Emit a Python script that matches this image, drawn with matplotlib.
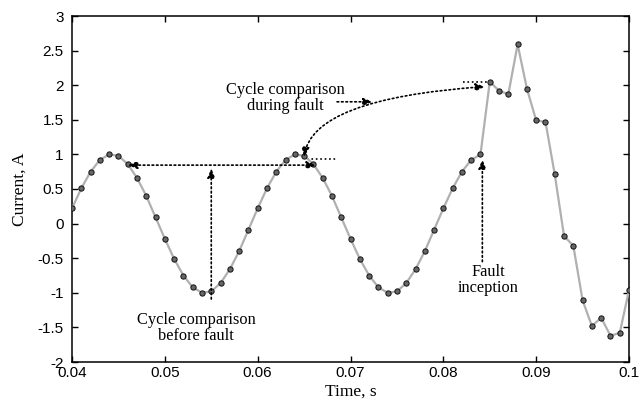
import matplotlib.pyplot as plt
from matplotlib.patches import FancyArrowPatch

SERIF = ['Liberation Serif', 'DejaVu Serif']
SANS = ['Liberation Sans', 'DejaVu Sans']

# sample times, ms
time_ms = [40, 41, 42, 43, 44, 45, 46, 47, 48, 49,
           50, 51, 52, 53, 54, 55, 56, 57, 58, 59,
           60, 61, 62, 63, 64, 65, 66, 67, 68, 69,
           70, 71, 72, 73, 74, 75, 76, 77, 78, 79,
           80, 81, 82, 83, 84, 85, 86, 87, 88, 89,
           90, 91, 92, 93, 94, 95, 96, 97, 98, 99, 100]

# current, A
current = [0.22, 0.51, 0.75, 0.92, 1.00, 0.98, 0.86, 0.66, 0.40, 0.09,
           -0.22, -0.51, -0.75, -0.92, -1.00, -0.98, -0.86, -0.66, -0.40, -0.09,
           0.22, 0.51, 0.75, 0.92, 1.00, 0.98, 0.86, 0.66, 0.40, 0.09,
           -0.22, -0.51, -0.75, -0.92, -1.00, -0.98, -0.86, -0.66, -0.40, -0.09,
           0.22, 0.51, 0.75, 0.92, 1.00, 2.05, 1.92, 1.87, 2.59, 1.95,
           1.49, 1.47, 0.71, -0.18, -0.32, -1.11, -1.48, -1.36, -1.62, -1.58, -0.96]

x_ticks = [0.04, 0.05, 0.06, 0.07, 0.08, 0.09, 0.1]
x_labels = ['0.04', '0.05', '0.06', '0.07', '0.08', '0.09', '0.1']
y_ticks = [-2, -1.5, -1, -0.5, 0, 0.5, 1, 1.5, 2, 2.5, 3]
y_labels = ['-2', '-1.5', '-1', '-0.5', '0', '0.5', '1', '1.5', '2', '2.5', '3']

t = [ms / 1000 for ms in time_ms]

fig = plt.figure(figsize=(6.39, 4.0), dpi=100)
ax = fig.add_axes([0.1127, 0.095, 0.8717, 0.865])

ax.plot(t, current, color='#b0b0b0', lw=1.6, marker='o', ms=3.8,
        mfc='#666666', mec='#111111', mew=0.7, zorder=3)

ax.set_xlim(0.04, 0.1)
ax.set_ylim(-2, 3)
ax.set_xticks(x_ticks)
ax.set_xticklabels(x_labels, family=SANS, fontsize=11)
ax.set_yticks(y_ticks)
ax.set_yticklabels(y_labels, family=SANS, fontsize=11)
ax.tick_params(axis='both', direction='in', length=4.5, width=1,
               top=True, right=True, colors='black')
ax.tick_params(axis='x', pad=3)
ax.tick_params(axis='y', pad=6)
for s in ax.spines.values():
    s.set_linewidth(1.1)

ax.set_xlabel('Time, s', family=SERIF, fontsize=12.5)
ax.set_ylabel('Current, A', family=SERIF, fontsize=12.5)
ax.xaxis.set_label_coords(0.5, -0.062)
ax.yaxis.set_label_coords(-0.08, 0.5)

dot = dict(color='black', lw=1.2, ls=':')
head = '-|>,head_length=0.55,head_width=0.22'
both = '<|-|>,head_length=0.55,head_width=0.22'


def arrow(a, b, style, **kw):
    p = FancyArrowPatch(a, b, arrowstyle=style, mutation_scale=10,
                        shrinkA=0, shrinkB=0, color='black', lw=1.2,
                        ls=':', zorder=4, **kw)
    ax.add_patch(p)


# cycle comparison before fault
arrow((0.046, 0.845), (0.0663, 0.845), both)
arrow((0.055, -1.09), (0.055, 0.80), head)
ax.text(0.0534, -1.51, 'Cycle comparison\nbefore fault', family=SERIF,
        fontsize=11.8, ha='center', va='center', linespacing=1.0)

# cycle comparison during fault
arrow((0.0650, 0.96), (0.0845, 1.98), both,
      connectionstyle='angle3,angleA=82,angleB=4')
ax.plot([0.0653, 0.0684], [0.94, 0.94], **dot)
ax.plot([0.0821, 0.0850], [2.045, 2.045], **dot)
arrow((0.06855, 1.76), (0.0724, 1.76), head)
ax.text(0.0630, 1.81, 'Cycle comparison\nduring fault', family=SERIF,
        fontsize=11.8, ha='center', va='center', linespacing=1.0)

# fault inception
arrow((0.0842, -0.55), (0.0842, 0.93), head)
ax.text(0.0848, -0.81, 'Fault\ninception', family=SERIF,
        fontsize=11.8, ha='center', va='center', linespacing=1.0)

fig.savefig('out.png', dpi=100)
